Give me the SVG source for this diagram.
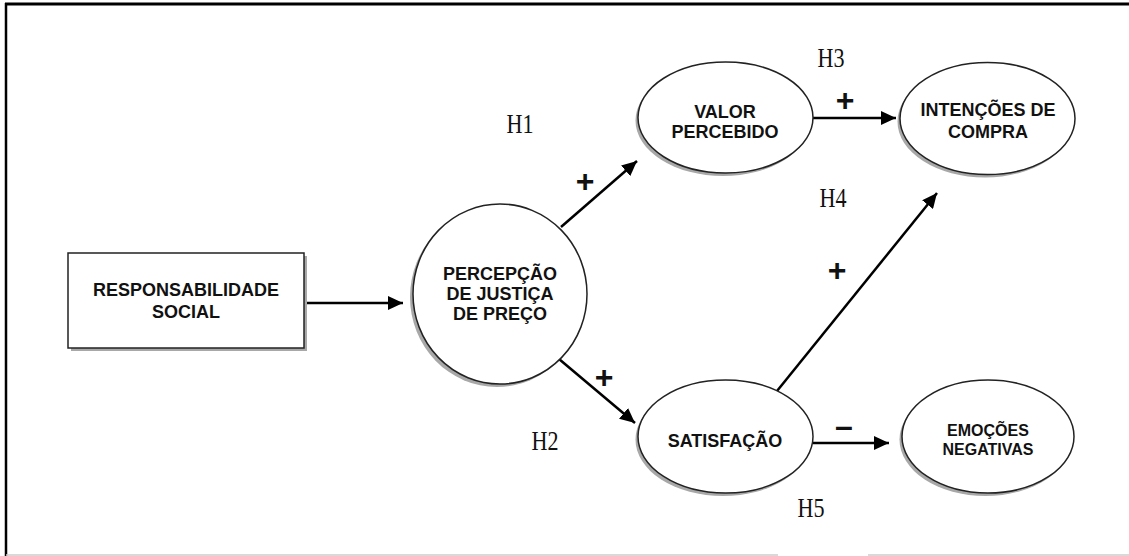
<svg xmlns="http://www.w3.org/2000/svg" width="1129" height="556" viewBox="0 0 1129 556">
<style>
.lbl{font-family:"Liberation Sans",Arial,sans-serif;font-weight:bold;font-size:18px;fill:#111;text-anchor:middle}
.sm{font-size:16px}
.h{font-family:"Liberation Serif","Times New Roman",serif;font-size:27px;fill:#111;text-anchor:middle}
.sign{font-family:"Liberation Sans",Arial,sans-serif;font-weight:bold;font-size:32px;fill:#111;text-anchor:middle}
.shape{fill:#fff;stroke:#222;stroke-width:1.5}
.shadow{fill:#a8a8a8;stroke:none}
.conn{stroke:#000;stroke-width:2.5;fill:none}
</style>
<defs>
<marker id="arr" markerUnits="userSpaceOnUse" markerWidth="16" markerHeight="14" refX="15" refY="7" orient="auto">
<path d="M0,0 L15,7 L0,14 z" fill="#000"/>
</marker>
</defs>
<rect x="0" y="0" width="1129" height="556" fill="#fff"/>
<g id="frame">
<line x1="5" y1="4" x2="1129" y2="4" stroke="#000" stroke-width="3"/>
<line x1="6" y1="3" x2="6" y2="556" stroke="#000" stroke-width="2.5"/>
<line x1="6" y1="555" x2="778" y2="555" stroke="#ccc" stroke-width="1.5"/>
<line x1="868" y1="555" x2="1129" y2="555" stroke="#ccc" stroke-width="1.5"/>
</g>
<g id="connectors">
<line class="conn" x1="304" y1="303" x2="403" y2="303" marker-end="url(#arr)"/>
<line class="conn" x1="561" y1="227" x2="637" y2="161" marker-end="url(#arr)"/>
<line class="conn" x1="559" y1="359" x2="635" y2="423" marker-end="url(#arr)"/>
<line class="conn" x1="813" y1="118" x2="896" y2="118" marker-end="url(#arr)"/>
<line class="conn" x1="777" y1="391" x2="937" y2="193" marker-end="url(#arr)"/>
<line class="conn" x1="813" y1="443" x2="889" y2="443" marker-end="url(#arr)"/>
</g>
<g id="rs">
<rect class="shadow" x="71" y="256" width="236" height="95"/>
<rect class="shape" x="68" y="253" width="236" height="95"/>
<text class="lbl" x="186" y="296">RESPONSABILIDADE</text>
<text class="lbl" x="186" y="318">SOCIAL</text>
</g>
<g id="pjp">
<ellipse class="shadow" cx="497" cy="297" rx="87" ry="90"/>
<ellipse class="shape" cx="500" cy="294" rx="87" ry="90"/>
<text class="lbl" x="500" y="280">PERCEPÇÃO</text>
<text class="lbl" x="500" y="300">DE JUSTIÇA</text>
<text class="lbl" x="500" y="320">DE PREÇO</text>
</g>
<g id="vp">
<ellipse class="shadow" cx="723" cy="120.5" rx="87.5" ry="55.5"/>
<ellipse class="shape" cx="725.5" cy="117.5" rx="87.5" ry="55.5"/>
<text class="lbl" x="725" y="118">VALOR</text>
<text class="lbl" x="725" y="138">PERCEBIDO</text>
</g>
<g id="ic">
<ellipse class="shadow" cx="985" cy="121.5" rx="87.5" ry="56"/>
<ellipse class="shape" cx="987.5" cy="118.5" rx="87.5" ry="56"/>
<text class="lbl" x="988" y="116">INTENÇÕES DE</text>
<text class="lbl" x="988" y="138">COMPRA</text>
</g>
<g id="sat">
<ellipse class="shadow" cx="723" cy="439.5" rx="87.5" ry="56.5"/>
<ellipse class="shape" cx="725.5" cy="436.5" rx="87.5" ry="56.5"/>
<text class="lbl" x="725" y="447">SATISFAÇÃO</text>
</g>
<g id="en">
<ellipse class="shadow" cx="985.5" cy="439.5" rx="86" ry="56.5"/>
<ellipse class="shape" cx="988" cy="436.5" rx="86" ry="56.5"/>
<text class="lbl sm" x="988" y="436">EMOÇÕES</text>
<text class="lbl sm" x="988" y="455">NEGATIVAS</text>
</g>
<g id="labels">
<text class="h" transform="translate(520,133) scale(0.82,1)">H1</text>
<text class="h" transform="translate(545,450) scale(0.82,1)">H2</text>
<text class="h" transform="translate(831,67) scale(0.82,1)">H3</text>
<text class="h" transform="translate(833,207) scale(0.82,1)">H4</text>
<text class="h" transform="translate(811,517) scale(0.82,1)">H5</text>
<text class="sign" x="585" y="192">+</text>
<text class="sign" x="604" y="388">+</text>
<text class="sign" x="845" y="111">+</text>
<text class="sign" x="837" y="281">+</text>
<text class="sign" x="844" y="437">–</text>
</g>
</svg>
